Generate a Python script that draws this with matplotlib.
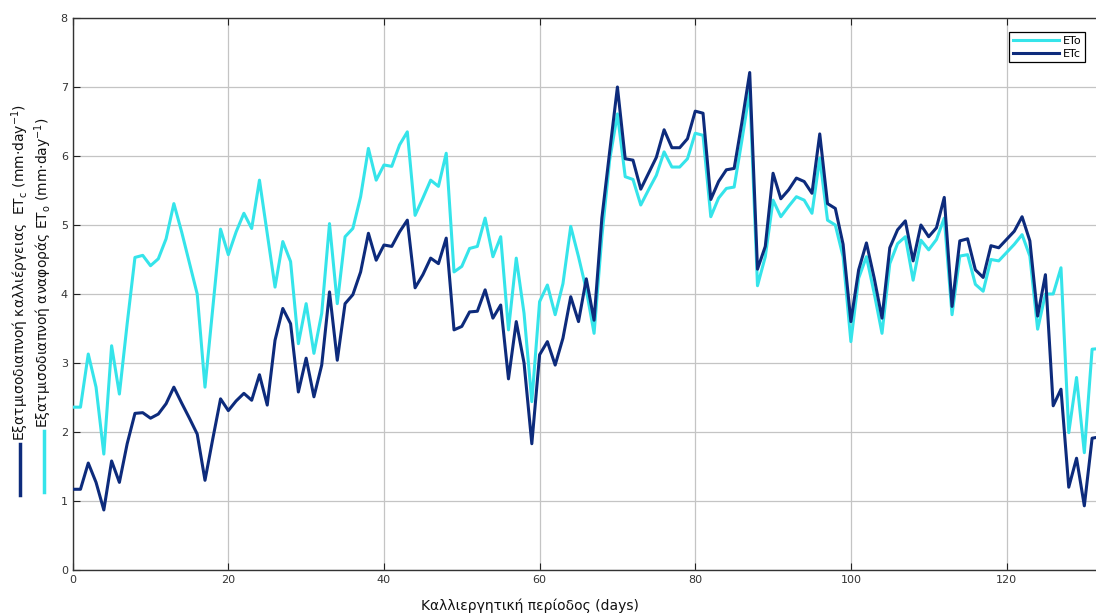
import matplotlib
matplotlib.use("Agg")
import matplotlib.pyplot as plt
from matplotlib.lines import Line2D
import numpy as np

days = list(range(0, 133))

eto = [2.36, 2.36, 3.13, 2.65, 1.68, 3.25, 2.55, 3.57, 4.53, 4.56,
       4.41, 4.51, 4.80, 5.31, 4.90, 4.45, 4.00, 2.65, 3.80, 4.94,
       4.57, 4.90, 5.17, 4.95, 5.65, 4.88, 4.10, 4.76, 4.47, 3.28,
       3.86, 3.14, 3.72, 5.02, 3.86, 4.83, 4.95, 5.41, 6.11, 5.65,
       5.87, 5.85, 6.16, 6.35, 5.14, 5.39, 5.65, 5.56, 6.04, 4.32,
       4.40, 4.66, 4.69, 5.10, 4.54, 4.83, 3.48, 4.52, 3.72, 2.44,
       3.89, 4.13, 3.70, 4.15, 4.98, 4.54, 4.06, 3.43, 4.83, 5.94,
       6.61, 5.70, 5.66, 5.29, 5.51, 5.72, 6.06, 5.84, 5.84, 5.96,
       6.33, 6.30, 5.12, 5.39, 5.53, 5.55, 6.23, 6.95, 4.12, 4.54,
       5.36, 5.12, 5.27, 5.41, 5.36, 5.17, 5.97, 5.07, 5.00, 4.54,
       3.31, 4.23, 4.54, 4.01, 3.43, 4.44, 4.73, 4.83, 4.20, 4.78,
       4.64, 4.79, 5.10, 3.70, 4.55, 4.57, 4.14, 4.04, 4.50, 4.48,
       4.60, 4.72, 4.86, 4.55, 3.49, 4.00, 4.00, 4.38, 1.99, 2.79,
       1.70, 3.20, 3.21]

etc = [1.17, 1.17, 1.55, 1.27, 0.87, 1.58, 1.27, 1.83, 2.27, 2.28,
       2.20, 2.26, 2.41, 2.65, 2.42, 2.20, 1.97, 1.30, 1.90, 2.48,
       2.31, 2.45, 2.56, 2.46, 2.83, 2.39, 3.33, 3.79, 3.57, 2.58,
       3.07, 2.51, 2.97, 4.03, 3.04, 3.86, 3.99, 4.32, 4.88, 4.49,
       4.71, 4.69, 4.90, 5.07, 4.09, 4.28, 4.52, 4.44, 4.81, 3.48,
       3.53, 3.74, 3.75, 4.06, 3.65, 3.84, 2.77, 3.60, 3.00, 1.83,
       3.12, 3.31, 2.97, 3.36, 3.96, 3.60, 4.22, 3.62, 5.10, 6.06,
       7.00, 5.96, 5.94, 5.52, 5.75, 5.98, 6.38, 6.12, 6.12, 6.25,
       6.65, 6.62, 5.37, 5.63, 5.80, 5.82, 6.49, 7.21, 4.36, 4.69,
       5.75, 5.38, 5.51, 5.68, 5.63, 5.46, 6.32, 5.31, 5.24, 4.72,
       3.60, 4.35, 4.74, 4.23, 3.65, 4.67, 4.93, 5.06, 4.48, 5.00,
       4.83, 4.96, 5.40, 3.82, 4.77, 4.80, 4.35, 4.24, 4.70, 4.67,
       4.79, 4.91, 5.12, 4.77, 3.68, 4.28, 2.38, 2.62, 1.20, 1.62,
       0.93, 1.91, 1.93]

series_labels = ["ETo", "ETc"]
x_ticks = [0, 20, 40, 60, 80, 100, 120]
y_ticks = [0, 1, 2, 3, 4, 5, 6, 7, 8]
xlabel = "Καλλιεργητική περίοδος (days)"
ylabel_etc = "Εξατμισοδιαπνοή καλλιέργειας  ET$_\\mathregular{c}$ (mm·day$^\\mathregular{-1}$)"
ylabel_eto = "Εξατμισοδιαπνοή αναφοράς ET$_\\mathregular{o}$ (mm·day$^\\mathregular{-1}$)"

CYAN = "#35E4EA"
NAVY = "#0D2B7C"

plt.rcParams["font.family"] = ["DejaVu Sans"]
plt.rcParams["mathtext.default"] = "regular"

fig = plt.figure(figsize=(10.96, 6.14), dpi=100)
ax = fig.add_axes([72.7 / 1096, 1 - 570 / 614, 1 - 72.7 / 1096, (570 - 18) / 614])

ax.plot(days, eto, color=CYAN, lw=2.2, label=series_labels[0], zorder=3)
ax.plot(days, etc, color=NAVY, lw=2.2, label=series_labels[1], zorder=4)

ax.set_xlim(0, 131.5)
ax.set_ylim(0, 8)
ax.set_xticks(x_ticks)
ax.set_yticks(y_ticks)
ax.grid(True, color="#c4c4c4", lw=0.9)
ax.set_axisbelow(True)
ax.tick_params(direction="in", top=True, right=False, labelsize=8,
               labelcolor="#333333", length=5, color="#222222")
ax.spines["right"].set_visible(False)
for s in ["top", "left", "bottom"]:
    ax.spines[s].set_color("#333333")
    ax.spines[s].set_linewidth(1.0)

leg = ax.legend(loc="upper right", fontsize=8, frameon=True, fancybox=False,
                edgecolor="black", framealpha=1, handlelength=4.2,
                borderpad=0.35, labelspacing=0.25, handletextpad=0.3,
                bbox_to_anchor=(0.995, 0.985))
leg.get_frame().set_linewidth(0.9)

fig.text((530) / 1096, 1 - 606 / 614, xlabel, ha="center", va="center",
         fontsize=10, color="#111111")

fig.text(20 / 1096, 1 - 441 / 614, ylabel_etc, rotation=90, ha="center",
         va="bottom", fontsize=10, color="#111111")
fig.text(43 / 1096, 1 - 428 / 614, ylabel_eto, rotation=90, ha="center",
         va="bottom", fontsize=10, color="#111111")
fig.add_artist(Line2D([20 / 1096, 20 / 1096], [1 - 495 / 614, 1 - 444 / 614],
                      transform=fig.transFigure, color=NAVY, lw=2.5))
fig.add_artist(Line2D([44 / 1096, 44 / 1096], [1 - 492 / 614, 1 - 431 / 614],
                      transform=fig.transFigure, color=CYAN, lw=2.5))

fig.savefig("out.png", dpi=100)
